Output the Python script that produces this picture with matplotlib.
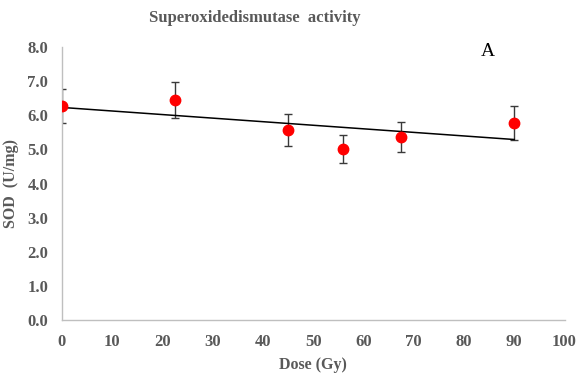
import numpy as np
import matplotlib
matplotlib.use("Agg")
import matplotlib.pyplot as plt

# SOD activity vs radiation dose
dose = [0, 22.5, 45, 56, 67.5, 90]
sod = [6.26, 6.45, 5.57, 5.01, 5.37, 5.78]
sod_err = [0.50, 0.52, 0.46, 0.42, 0.44, 0.50]

x_ticks = list(range(0, 101, 10))
y_ticks = [0.0, 1.0, 2.0, 3.0, 4.0, 5.0, 6.0, 7.0, 8.0]

plt.rcParams["font.family"] = ["Liberation Serif", "DejaVu Serif"]
gray = "#595959"

fig = plt.figure(figsize=(5.83, 3.74), dpi=100)
ax = fig.add_axes([0.1063, 0.1444, 0.862, 0.7299])

ax.errorbar(dose, sod, yerr=sod_err, fmt="none", ecolor="#3a3a3a",
            elinewidth=1.0, capsize=2.8, capthick=1.0, zorder=2)
ax.plot(dose, sod, "o", color="#ff0000", markersize=7.5, zorder=3)

# linear trend line over the measured range
slope, intercept = np.polyfit(dose, sod, 1)
xs = np.array([dose[0], dose[-1]])
ax.plot(xs, slope * xs + intercept, color="black", linewidth=1.1, zorder=2)

ax.set_xlim(0, 100)
ax.set_ylim(0, 8)
ax.set_xticks(x_ticks)
ax.set_yticks(y_ticks)
ax.set_xticklabels([str(t) for t in x_ticks])
ax.set_yticklabels([f"{t:.1f}" for t in y_ticks])
ax.tick_params(length=0, labelsize=12, colors=gray)
ax.tick_params(axis="x", pad=10)
ax.tick_params(axis="y", pad=10)
for lbl in ax.get_xticklabels() + ax.get_yticklabels():
    lbl.set_fontweight("bold")

for side in ("top", "right"):
    ax.spines[side].set_visible(False)
for side in ("left", "bottom"):
    ax.spines[side].set_color("#bfbfbf")
    ax.spines[side].set_linewidth(1.0)

ax.set_xlabel("Dose (Gy)", fontsize=11.5, fontweight="bold", color=gray, labelpad=5)
ax.set_ylabel("SOD  (U/mg)", fontsize=11.5, fontweight="bold", color=gray, labelpad=6)

fig.text(255 / 583, 1 - 18 / 374, "Superoxidedismutase  activity", ha="center",
         va="center", fontsize=12, fontweight="bold", color=gray)
fig.text(488 / 583, 1 - 52 / 374, "A", ha="center", va="center",
         fontsize=14, color="black")

fig.savefig("out.png", dpi=100)
